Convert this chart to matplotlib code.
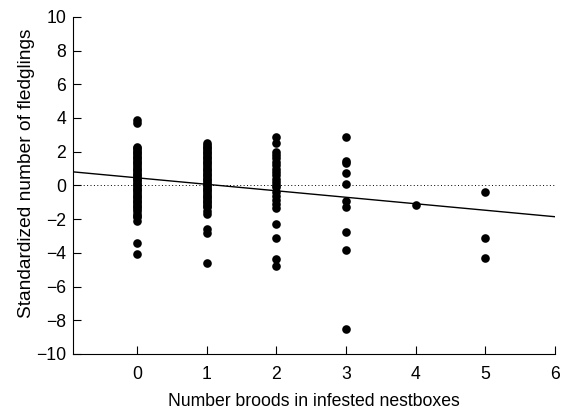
import matplotlib
matplotlib.use("Agg")
import matplotlib.pyplot as plt
import numpy as np

plt.rcParams['font.family'] = ['Liberation Sans', 'DejaVu Sans']

# standardized fledglings per number of broods
broods0 = [3.9, 3.7, 2.3, 2.2, 2.1, 2.0, 1.9, 1.8, 1.7, 1.6, 1.5, 1.4, 1.3, 1.2,
           1.1, 1.0, 0.9, 0.8, 0.7, 0.6, 0.5, 0.4, 0.3, 0.2, 0.1, 0.0, -0.1, -0.2,
           -0.3, -0.4, -0.5, -0.6, -0.7, -0.8, -0.9, -1.0, -1.1, -1.2, -1.3, -1.4,
           -1.5, -1.7, -1.8, -1.9, -2.1, -3.4, -4.1]
broods1 = [2.5, 2.4, 2.3, 2.2, 2.1, 2.0, 1.9, 1.8, 1.7, 1.6, 1.5, 1.4, 1.3, 1.2,
           1.1, 1.0, 0.9, 0.8, 0.7, 0.6, 0.5, 0.4, 0.3, 0.2, 0.1, 0.0, -0.1, -0.2,
           -0.3, -0.4, -0.5, -0.6, -0.7, -0.8, -0.9, -1.0, -1.1, -1.2, -1.3, -1.5,
           -1.7, -2.6, -2.8, -4.6]
broods2 = [2.85, 2.5, 2.0, 1.8, 1.6, 1.4, 1.2, 1.0, 0.8, 0.6, 0.4, 0.2, 0.0,
           -0.1, -0.4, -0.6, -0.85, -1.1, -1.35, -2.3, -3.1, -4.35, -4.8]
broods3 = [2.85, 1.45, 1.3, 0.75, 0.1, -0.9, -1.3, -2.75, -3.85, -8.5]
broods4 = [-1.15]
broods5 = [-0.4, -3.15, -4.3]

groups = [broods0, broods1, broods2, broods3, broods4, broods5]

# fitted regression line
intercept = 0.45
slope = -0.385

fig = plt.figure(figsize=(5.7, 4.12), dpi=100)
ax = fig.add_axes([0.128, 0.141, 0.846, 0.818])

for i, vals in enumerate(groups):
    ax.plot([i] * len(vals), vals, 'o', color='black', markersize=6.2, markeredgewidth=0)

xmin, xmax = -0.92, 6
xs = np.array([xmin, xmax])
ax.plot(xs, intercept + slope * xs, color='black', linewidth=1.0)
ax.axhline(0, color='black', linestyle=(0, (1, 2.5)), linewidth=0.7)

ax.set_xlim(xmin, xmax)
ax.set_ylim(-10, 10)
ax.set_xticks(range(0, 7))
ax.set_yticks(range(-10, 11, 2))
ax.set_yticklabels([str(v).replace('-', '\u2212') for v in range(-10, 11, 2)])
ax.spines['top'].set_visible(False)
ax.spines['right'].set_visible(False)
ax.tick_params(direction='in', length=6, width=0.8, labelsize=12.7)
ax.tick_params(axis='x', pad=9)
ax.tick_params(axis='y', pad=5)
ax.set_xlabel('Number broods in infested nestboxes', fontsize=12.7, labelpad=7)
ax.set_ylabel('Standardized number of fledglings', fontsize=13.8)
ax.yaxis.set_label_coords(-0.078, 0.535)

plt.savefig('out.png', dpi=100)
